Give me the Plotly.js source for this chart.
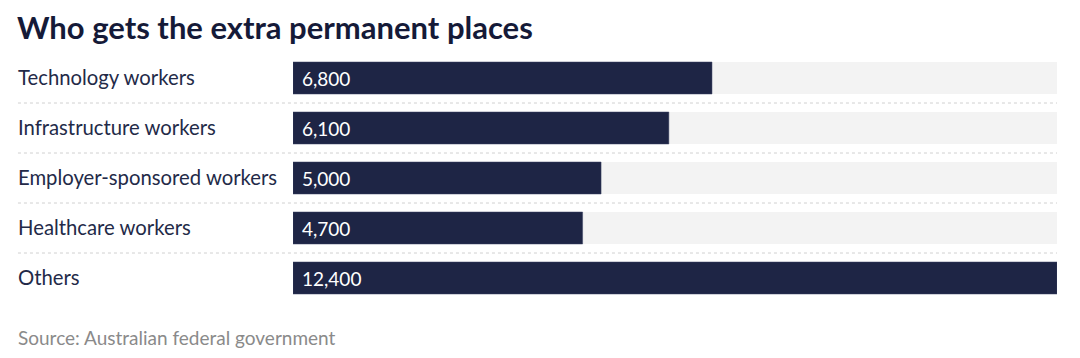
<!DOCTYPE html>
<html>
<head>
<meta charset="utf-8">
<script src="https://cdn.plot.ly/plotly-3.0.1.min.js"></script>
<style>html,body{margin:0;padding:0;background:#fff;}#chart{width:1080px;height:358px;}</style>
</head>
<body>
<div id="chart"></div>
<script>
const categories = ["Technology workers", "Infrastructure workers", "Employer-sponsored workers", "Healthcare workers", "Others"];
const values = [6800, 6100, 5000, 4700, 12400];
const valueLabels = ["6,800", "6,100", "5,000", "4,700", "12,400"];
const titleText = "Who gets the extra permanent places";
const sourceText = "Source: Australian federal government";

const navy = "#1e2545";
const trackMax = Math.max(...values);

const track = {
  type: "bar", orientation: "h",
  y: categories, x: categories.map(() => trackMax),
  marker: {color: "#f3f3f3"}, width: 0.64,
  hoverinfo: "skip", showlegend: false
};
const bars = {
  type: "bar", orientation: "h",
  y: categories, x: values,
  marker: {color: navy, line: {color: "#3a4263", width: 0.5}}, width: 0.64,
  showlegend: false
};

const annotations = [];
categories.forEach((c, i) => {
  annotations.push({
    xref: "paper", yref: "y", x: -0.363, y: c, xanchor: "left", yanchor: "middle", yshift: 1,
    text: c, showarrow: false, font: {family: "Lato", size: 20.3, color: "#232a48"}
  });
  annotations.push({
    xref: "x", yref: "y", x: 0, y: c, xanchor: "left", yanchor: "middle", xshift: 7,
    text: valueLabels[i], showarrow: false, font: {family: "Lato", size: 19, color: "#ffffff"}
  });
});
annotations.push({
  xref: "paper", yref: "paper", x: -0.363, y: -0.085, xanchor: "left", yanchor: "top",
  text: sourceText, showarrow: false, font: {family: "Lato", size: 19, color: "#8a8a8a"}
});

const shapes = [];
for (let i = 0; i < categories.length - 1; i++) {
  shapes.push({
    type: "line", xref: "paper", yref: "y", x0: -0.36, x1: 1, y0: i + 0.5, y1: i + 0.5,
    line: {color: "#d0d0d0", width: 1, dash: "dot"}
  });
}

const layout = {
  width: 1080, height: 358,
  margin: {l: 293, r: 23, t: 53, b: 55},
  paper_bgcolor: "#ffffff", plot_bgcolor: "#ffffff",
  barmode: "overlay",
  title: {
    text: "<b>" + titleText + "</b>",
    xref: "container", yref: "container", x: 17/1080, xanchor: "left",
    y: 1 - 17/358, yanchor: "top",
    font: {family: "Lato", size: 31, color: "#151a38"}
  },
  xaxis: {range: [0, trackMax], visible: false, fixedrange: true},
  yaxis: {type: "category", autorange: false, range: [4.5, -0.5], visible: false, fixedrange: true},
  annotations: annotations,
  shapes: shapes
};

Plotly.newPlot("chart", [track, bars], layout, {displayModeBar: false, staticPlot: true});
</script>
</body>
</html>
